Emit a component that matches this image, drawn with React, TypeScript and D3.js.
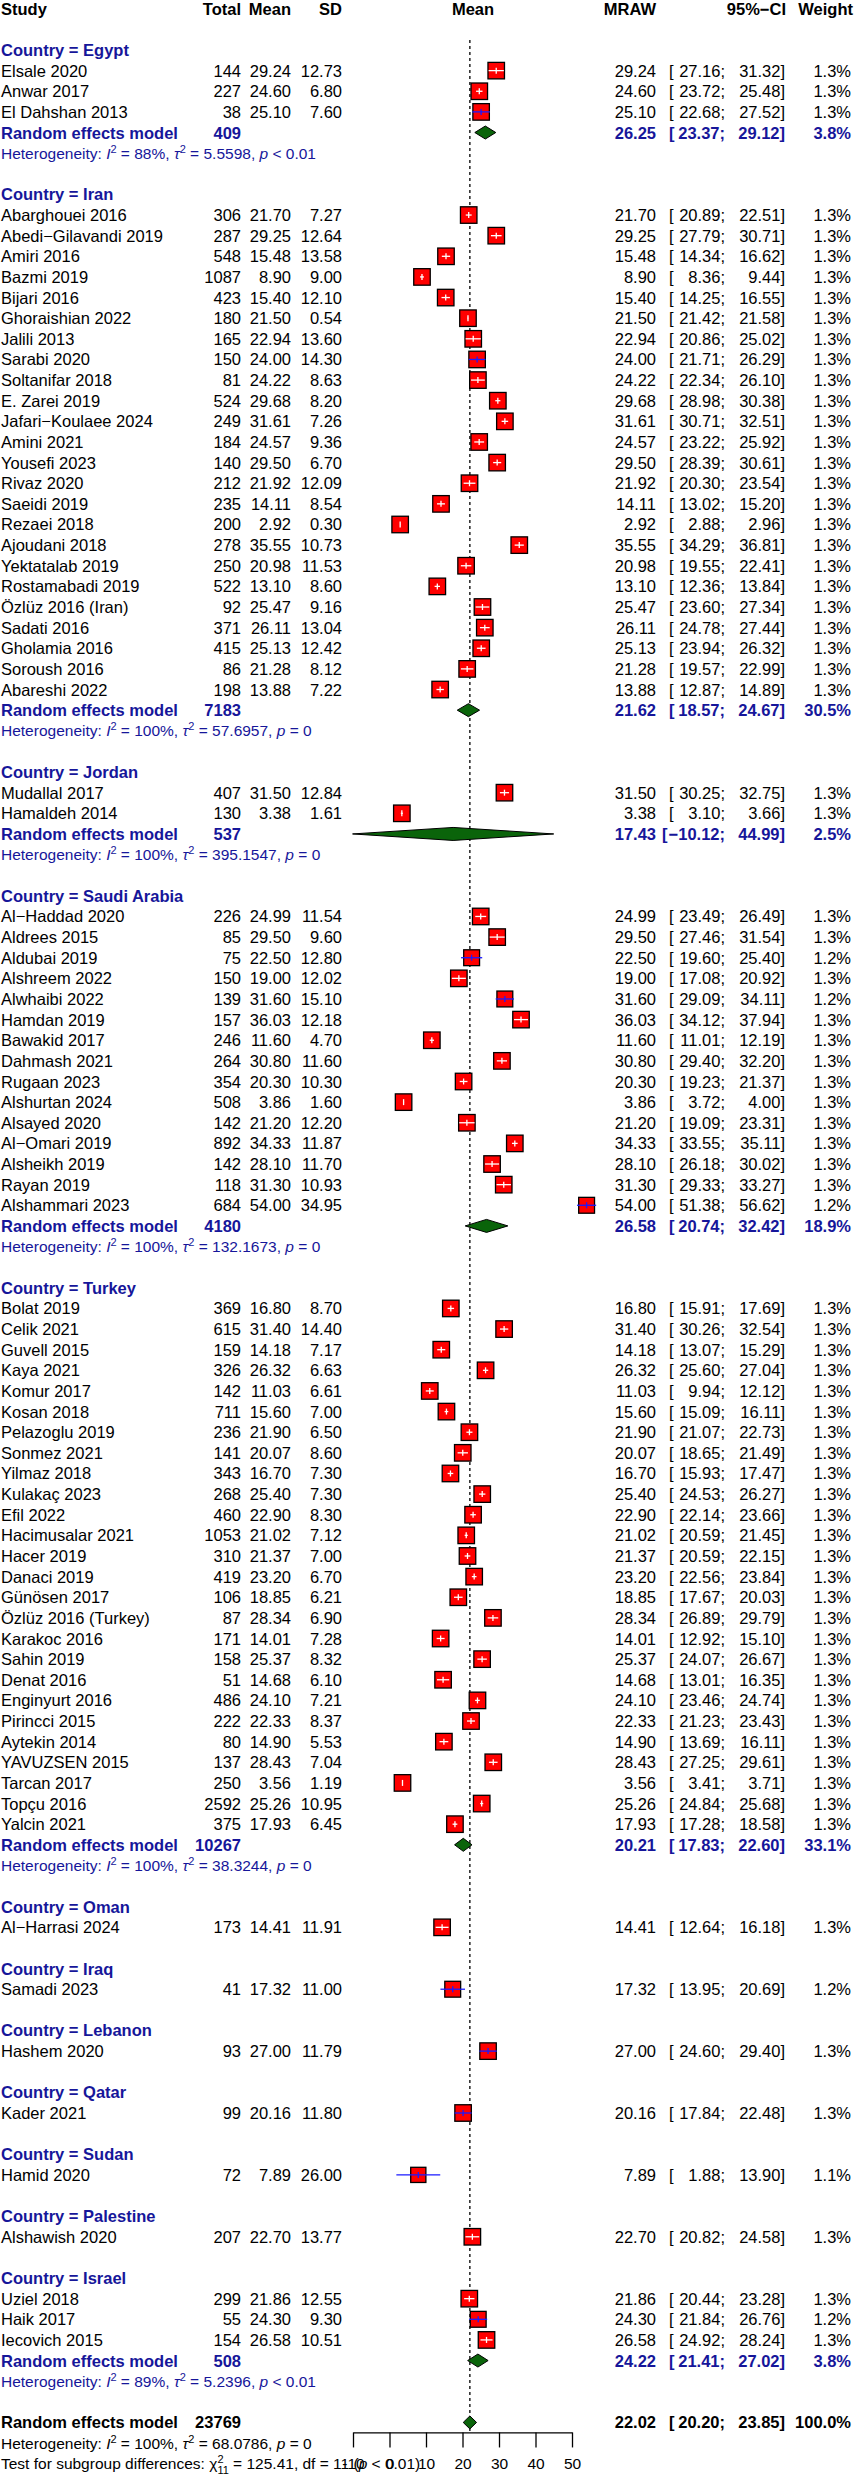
import { useEffect, useRef } from "react";
import * as d3 from "d3";

// [study, total, mean, sd, lower, upper, weight%]
type Study = [string, number, number, number, number, number, number];

const egyptStudies: Study[] = [
  ["Elsale 2020", 144, 29.24, 12.73, 27.16, 31.32, 1.3],
  ["Anwar 2017", 227, 24.6, 6.8, 23.72, 25.48, 1.3],
  ["El Dahshan 2013", 38, 25.1, 7.6, 22.68, 27.52, 1.3],
];

const iranStudies: Study[] = [
  ["Abarghouei 2016", 306, 21.7, 7.27, 20.89, 22.51, 1.3],
  ["Abedi\u2212Gilavandi 2019", 287, 29.25, 12.64, 27.79, 30.71, 1.3],
  ["Amiri 2016", 548, 15.48, 13.58, 14.34, 16.62, 1.3],
  ["Bazmi 2019", 1087, 8.9, 9.0, 8.36, 9.44, 1.3],
  ["Bijari 2016", 423, 15.4, 12.1, 14.25, 16.55, 1.3],
  ["Ghoraishian 2022", 180, 21.5, 0.54, 21.42, 21.58, 1.3],
  ["Jalili 2013", 165, 22.94, 13.6, 20.86, 25.02, 1.3],
  ["Sarabi 2020", 150, 24.0, 14.3, 21.71, 26.29, 1.3],
  ["Soltanifar 2018", 81, 24.22, 8.63, 22.34, 26.1, 1.3],
  ["E. Zarei 2019", 524, 29.68, 8.2, 28.98, 30.38, 1.3],
  ["Jafari\u2212Koulaee 2024", 249, 31.61, 7.26, 30.71, 32.51, 1.3],
  ["Amini 2021", 184, 24.57, 9.36, 23.22, 25.92, 1.3],
  ["Yousefi 2023", 140, 29.5, 6.7, 28.39, 30.61, 1.3],
  ["Rivaz 2020", 212, 21.92, 12.09, 20.3, 23.54, 1.3],
  ["Saeidi 2019", 235, 14.11, 8.54, 13.02, 15.2, 1.3],
  ["Rezaei 2018", 200, 2.92, 0.3, 2.88, 2.96, 1.3],
  ["Ajoudani 2018", 278, 35.55, 10.73, 34.29, 36.81, 1.3],
  ["Yektatalab 2019", 250, 20.98, 11.53, 19.55, 22.41, 1.3],
  ["Rostamabadi 2019", 522, 13.1, 8.6, 12.36, 13.84, 1.3],
  ["\u00d6zl\u00fcz 2016 (Iran)", 92, 25.47, 9.16, 23.6, 27.34, 1.3],
  ["Sadati 2016", 371, 26.11, 13.04, 24.78, 27.44, 1.3],
  ["Gholamia 2016", 415, 25.13, 12.42, 23.94, 26.32, 1.3],
  ["Soroush 2016", 86, 21.28, 8.12, 19.57, 22.99, 1.3],
  ["Abareshi 2022", 198, 13.88, 7.22, 12.87, 14.89, 1.3],
];

const jordanStudies: Study[] = [
  ["Mudallal 2017", 407, 31.5, 12.84, 30.25, 32.75, 1.3],
  ["Hamaldeh 2014", 130, 3.38, 1.61, 3.1, 3.66, 1.3],
];

const saudiStudies: Study[] = [
  ["Al\u2212Haddad 2020", 226, 24.99, 11.54, 23.49, 26.49, 1.3],
  ["Aldrees 2015", 85, 29.5, 9.6, 27.46, 31.54, 1.3],
  ["Aldubai 2019", 75, 22.5, 12.8, 19.6, 25.4, 1.2],
  ["Alshreem 2022", 150, 19.0, 12.02, 17.08, 20.92, 1.3],
  ["Alwhaibi 2022", 139, 31.6, 15.1, 29.09, 34.11, 1.2],
  ["Hamdan 2019", 157, 36.03, 12.18, 34.12, 37.94, 1.3],
  ["Bawakid 2017", 246, 11.6, 4.7, 11.01, 12.19, 1.3],
  ["Dahmash 2021", 264, 30.8, 11.6, 29.4, 32.2, 1.3],
  ["Rugaan 2023", 354, 20.3, 10.3, 19.23, 21.37, 1.3],
  ["Alshurtan 2024", 508, 3.86, 1.6, 3.72, 4.0, 1.3],
  ["Alsayed 2020", 142, 21.2, 12.2, 19.09, 23.31, 1.3],
  ["Al\u2212Omari 2019", 892, 34.33, 11.87, 33.55, 35.11, 1.3],
  ["Alsheikh 2019", 142, 28.1, 11.7, 26.18, 30.02, 1.3],
  ["Rayan 2019", 118, 31.3, 10.93, 29.33, 33.27, 1.3],
  ["Alshammari 2023", 684, 54.0, 34.95, 51.38, 56.62, 1.2],
];

const turkeyStudies: Study[] = [
  ["Bolat 2019", 369, 16.8, 8.7, 15.91, 17.69, 1.3],
  ["Celik 2021", 615, 31.4, 14.4, 30.26, 32.54, 1.3],
  ["Guvell 2015", 159, 14.18, 7.17, 13.07, 15.29, 1.3],
  ["Kaya 2021", 326, 26.32, 6.63, 25.6, 27.04, 1.3],
  ["Komur 2017", 142, 11.03, 6.61, 9.94, 12.12, 1.3],
  ["Kosan 2018", 711, 15.6, 7.0, 15.09, 16.11, 1.3],
  ["Pelazoglu 2019", 236, 21.9, 6.5, 21.07, 22.73, 1.3],
  ["Sonmez 2021", 141, 20.07, 8.6, 18.65, 21.49, 1.3],
  ["Yilmaz 2018", 343, 16.7, 7.3, 15.93, 17.47, 1.3],
  ["Kulaka\u00e7 2023", 268, 25.4, 7.3, 24.53, 26.27, 1.3],
  ["Efil 2022", 460, 22.9, 8.3, 22.14, 23.66, 1.3],
  ["Hacimusalar 2021", 1053, 21.02, 7.12, 20.59, 21.45, 1.3],
  ["Hacer 2019", 310, 21.37, 7.0, 20.59, 22.15, 1.3],
  ["Danaci 2019", 419, 23.2, 6.7, 22.56, 23.84, 1.3],
  ["G\u00fcn\u00f6sen 2017", 106, 18.85, 6.21, 17.67, 20.03, 1.3],
  ["\u00d6zl\u00fcz 2016 (Turkey)", 87, 28.34, 6.9, 26.89, 29.79, 1.3],
  ["Karakoc 2016", 171, 14.01, 7.28, 12.92, 15.1, 1.3],
  ["Sahin 2019", 158, 25.37, 8.32, 24.07, 26.67, 1.3],
  ["Denat 2016", 51, 14.68, 6.1, 13.01, 16.35, 1.3],
  ["Enginyurt 2016", 486, 24.1, 7.21, 23.46, 24.74, 1.3],
  ["Pirincci 2015", 222, 22.33, 8.37, 21.23, 23.43, 1.3],
  ["Aytekin 2014", 80, 14.9, 5.53, 13.69, 16.11, 1.3],
  ["YAVUZSEN 2015", 137, 28.43, 7.04, 27.25, 29.61, 1.3],
  ["Tarcan 2017", 250, 3.56, 1.19, 3.41, 3.71, 1.3],
  ["Top\u00e7u 2016", 2592, 25.26, 10.95, 24.84, 25.68, 1.3],
  ["Yalcin 2021", 375, 17.93, 6.45, 17.28, 18.58, 1.3],
];

const omanStudies: Study[] = [["Al\u2212Harrasi 2024", 173, 14.41, 11.91, 12.64, 16.18, 1.3]];
const iraqStudies: Study[] = [["Samadi 2023", 41, 17.32, 11.0, 13.95, 20.69, 1.2]];
const lebanonStudies: Study[] = [["Hashem 2020", 93, 27.0, 11.79, 24.6, 29.4, 1.3]];
const qatarStudies: Study[] = [["Kader 2021", 99, 20.16, 11.8, 17.84, 22.48, 1.3]];
const sudanStudies: Study[] = [["Hamid 2020", 72, 7.89, 26.0, 1.88, 13.9, 1.1]];
const palestineStudies: Study[] = [["Alshawish 2020", 207, 22.7, 13.77, 20.82, 24.58, 1.3]];
const israelStudies: Study[] = [
  ["Uziel 2018", 299, 21.86, 12.55, 20.44, 23.28, 1.3],
  ["Haik 2017", 55, 24.3, 9.3, 21.84, 26.76, 1.2],
  ["Iecovich 2015", 154, 26.58, 10.51, 24.92, 28.24, 1.3],
];

// pooled: [total, mean, lower, upper, weight, I2, tau2, p]
type Pooled = [number, number, number, number, number, string, string, string];

const countries = [
  "Egypt", "Iran", "Jordan", "Saudi Arabia", "Turkey", "Oman",
  "Iraq", "Lebanon", "Qatar", "Sudan", "Palestine", "Israel",
];
const countryStudies: Study[][] = [
  egyptStudies, iranStudies, jordanStudies, saudiStudies, turkeyStudies, omanStudies,
  iraqStudies, lebanonStudies, qatarStudies, sudanStudies, palestineStudies, israelStudies,
];
const countryPooled: (Pooled | null)[] = [
  [409, 26.25, 23.37, 29.12, 3.8, "88%", "5.5598", "< 0.01"],
  [7183, 21.62, 18.57, 24.67, 30.5, "100%", "57.6957", "= 0"],
  [537, 17.43, -10.12, 44.99, 2.5, "100%", "395.1547", "= 0"],
  [4180, 26.58, 20.74, 32.42, 18.9, "100%", "132.1673", "= 0"],
  [10267, 20.21, 17.83, 22.6, 33.1, "100%", "38.3244", "= 0"],
  null, null, null, null, null, null,
  [508, 24.22, 21.41, 27.02, 3.8, "89%", "5.2396", "< 0.01"],
];
const overallPooled: Pooled = [23769, 22.02, 20.2, 23.85, 100.0, "100%", "68.0786", "= 0"];
const subgroupTest = { chi2: "125.41", df: 11, p: "< 0.01" };
const axisTicks = [-10, 0, 10, 20, 30, 40, 50];

const W = 854;
const H = 2475;
const FONT = "'Liberation Sans', Arial, Helvetica, sans-serif";
const FS = 16.5;
const FS_HET = 15.5;
const BLUE = "#16169a";
const ROW_H = 20.63;
const rowY = (r: number) => 50 + (r - 3) * ROW_H;

const COL = {
  study: 1,
  total: 241,
  mean: 291,
  sd: 342,
  mraw: 656,
  ciOpen: 669,
  ciLow: 725,
  ciHigh: 785,
  weight: 851,
};

const x = d3.scaleLinear().domain([-10, 50]).range([353, 572]);

const fmt = (v: number) => (v < 0 ? "\u2212" + Math.abs(v).toFixed(2) : v.toFixed(2));

let ctx: CanvasRenderingContext2D | null = null;
function textWidth(s: string, bold: boolean) {
  if (!ctx) ctx = document.createElement("canvas").getContext("2d");
  if (!ctx) return s.length * FS * 0.55;
  ctx.font = `${bold ? "bold " : ""}${FS}px ${FONT}`;
  return ctx.measureText(s).width;
}

function CI({ lo, hi, y, bold, color }: { lo: number; hi: number; y: number; bold: boolean; color: string }) {
  const low = fmt(lo) + ";";
  const openX = Math.min(COL.ciOpen, COL.ciLow - textWidth(low, bold) - textWidth("[", bold) - 1);
  const fw = bold ? "bold" : "normal";
  return (
    <g fill={color} fontWeight={fw}>
      <text x={openX} y={y}>[</text>
      <text x={COL.ciLow} y={y} textAnchor="end">{low}</text>
      <text x={COL.ciHigh} y={y} textAnchor="end">{fmt(hi) + "]"}</text>
    </g>
  );
}

function Het({ y, p, color }: { y: number; p: Pooled; color: string }) {
  return (
    <text x={COL.study} y={y} fontSize={FS_HET} fill={color}>
      Heterogeneity: <tspan fontStyle="italic">I</tspan>
      <tspan dy={-6} fontSize={11}>2</tspan>
      <tspan dy={6}>{` = ${p[5]}, `}</tspan>
      <tspan fontStyle="italic">{"\u03c4"}</tspan>
      <tspan dy={-6} fontSize={11}>2</tspan>
      <tspan dy={6}>{` = ${p[6]}, `}</tspan>
      <tspan fontStyle="italic">p</tspan>
      <tspan>{` ${p[7]}`}</tspan>
    </text>
  );
}

function StudyRow({ s, r }: { s: Study; r: number }) {
  const cy = rowY(r);
  const ty = cy + 6;
  const [name, total, mean, sd, lo, hi, w] = s;
  const side = 16.5 * Math.sqrt(w / 1.3);
  const x0 = x(lo);
  const x1 = x(hi);
  const cx = x(mean);
  const inside = x1 - x0 <= side;
  const lineColor = inside ? "#ffffff" : "#1a1aff";
  return (
    <g>
      <text x={COL.study} y={ty}>{name}</text>
      <text x={COL.total} y={ty} textAnchor="end">{total}</text>
      <text x={COL.mean} y={ty} textAnchor="end">{mean.toFixed(2)}</text>
      <text x={COL.sd} y={ty} textAnchor="end">{sd.toFixed(2)}</text>
      <rect x={cx - side / 2} y={cy - side / 2} width={side} height={side} fill="#ff0000" stroke="#000" strokeWidth={1.3} />
      <line x1={x0} x2={x1} y1={cy} y2={cy} stroke={lineColor} strokeWidth={1.3} />
      <line x1={cx} x2={cx} y1={cy - 3} y2={cy + 3} stroke={lineColor} strokeWidth={1.3} />
      <text x={COL.mraw} y={ty} textAnchor="end">{mean.toFixed(2)}</text>
      <CI lo={lo} hi={hi} y={ty} bold={false} color="#000" />
      <text x={COL.weight} y={ty} textAnchor="end">{w.toFixed(1) + "%"}</text>
    </g>
  );
}

function PooledRow({ p, r, color }: { p: Pooled; r: number; color: string }) {
  const cy = rowY(r);
  const ty = cy + 6;
  const [total, mean, lo, hi, w] = p;
  const hh = 6.5;
  const pts = [
    [x(lo), cy],
    [x(mean), cy - hh],
    [x(hi), cy],
    [x(mean), cy + hh],
  ];
  return (
    <g fontWeight="bold" fill={color}>
      <text x={COL.study} y={ty}>Random effects model</text>
      <text x={COL.total} y={ty} textAnchor="end">{total}</text>
      <polygon points={pts.map((d) => d.join(",")).join(" ")} fill="#0a640a" stroke="#000" strokeWidth={1} />
      <text x={COL.mraw} y={ty} textAnchor="end">{mean.toFixed(2)}</text>
      <CI lo={lo} hi={hi} y={ty} bold={true} color={color} />
      <text x={COL.weight} y={ty} textAnchor="end">{w.toFixed(1) + "%"}</text>
    </g>
  );
}

export default function App() {
  const axisRef = useRef<SVGGElement | null>(null);

  // assign rows: header, studies, pooled + heterogeneity, blank
  const items: JSX.Element[] = [];
  let r = 3;
  countries.forEach((c, i) => {
    items.push(
      <text key={`h${i}`} x={COL.study} y={rowY(r) + 6} fill={BLUE} fontWeight="bold">
        {`Country = ${c}`}
      </text>
    );
    r += 1;
    countryStudies[i].forEach((s, j) => {
      items.push(<StudyRow key={`s${i}-${j}`} s={s} r={r} />);
      r += 1;
    });
    const p = countryPooled[i];
    if (p) {
      items.push(<PooledRow key={`p${i}`} p={p} r={r} color={BLUE} />);
      r += 1;
      items.push(<Het key={`het${i}`} y={rowY(r) + 5.5} p={p} color={BLUE} />);
      r += 1;
    }
    r += 1;
  });
  const overallRow = r;
  const axisY = rowY(overallRow) + 10;
  const testRow = overallRow + 2;

  useEffect(() => {
    if (!axisRef.current) return;
    const g = d3.select(axisRef.current);
    g.selectAll("*").remove();
    g.call(
      d3
        .axisBottom(x)
        .tickValues(axisTicks)
        .tickFormat((d) => `${d}`)
        .tickSize(15)
        .tickSizeOuter(0)
        .tickPadding(11)
    );
    g.select(".domain").attr("stroke", "#000").attr("stroke-width", 1.3);
    g.selectAll(".tick line").attr("stroke", "#000").attr("stroke-width", 1.3);
    g.selectAll(".tick text")
      .attr("fill", "#000")
      .attr("font-size", 15.5)
      .attr("font-family", FONT);
  }, []);

  return (
    <div style={{ position: "absolute", left: 0, top: 0 }}>
      <svg width={W} height={H} fontFamily={FONT} fontSize={FS} style={{ display: "block", background: "#fff" }}>
        <rect width={W} height={H} fill="#fff" />
        {/* header */}
        <g fontWeight="bold">
          <text x={COL.study} y={rowY(1) + 6}>Study</text>
          <text x={COL.total} y={rowY(1) + 6} textAnchor="end">Total</text>
          <text x={COL.mean} y={rowY(1) + 6} textAnchor="end">Mean</text>
          <text x={COL.sd} y={rowY(1) + 6} textAnchor="end">SD</text>
          <text x={473} y={rowY(1) + 6} textAnchor="middle">Mean</text>
          <text x={COL.mraw} y={rowY(1) + 6} textAnchor="end">MRAW</text>
          <text x={COL.ciHigh + 1} y={rowY(1) + 6} textAnchor="end">95%{"\u2212"}CI</text>
          <text x={W - 1} y={rowY(1) + 6} textAnchor="end">Weight</text>
        </g>
        {/* reference line at overall estimate */}
        <line
          x1={x(overallPooled[1])}
          x2={x(overallPooled[1])}
          y1={rowY(3) - 10}
          y2={axisY}
          stroke="#000"
          strokeWidth={1.3}
          strokeDasharray="3,3"
        />
        {items}
        <PooledRow p={overallPooled} r={overallRow} color="#000" />
        <Het y={rowY(overallRow + 1) + 5.5} p={overallPooled} color="#000" />
        <text x={COL.study} y={rowY(testRow) + 5.5} fontSize={FS_HET}>
          Test for subgroup differences: {"\u03c7"}
          <tspan dy={-6} fontSize={11}>2</tspan>
          <tspan dx={-6.1} dy={11} fontSize={11}>{subgroupTest.df}</tspan>
          <tspan dy={-5}>{` = ${subgroupTest.chi2}, df = ${subgroupTest.df} (`}</tspan>
          <tspan fontStyle="italic">p</tspan>
          <tspan>{` ${subgroupTest.p})`}</tspan>
        </text>
        <g ref={axisRef} transform={`translate(0,${axisY})`} />
      </svg>
    </div>
  );
}
